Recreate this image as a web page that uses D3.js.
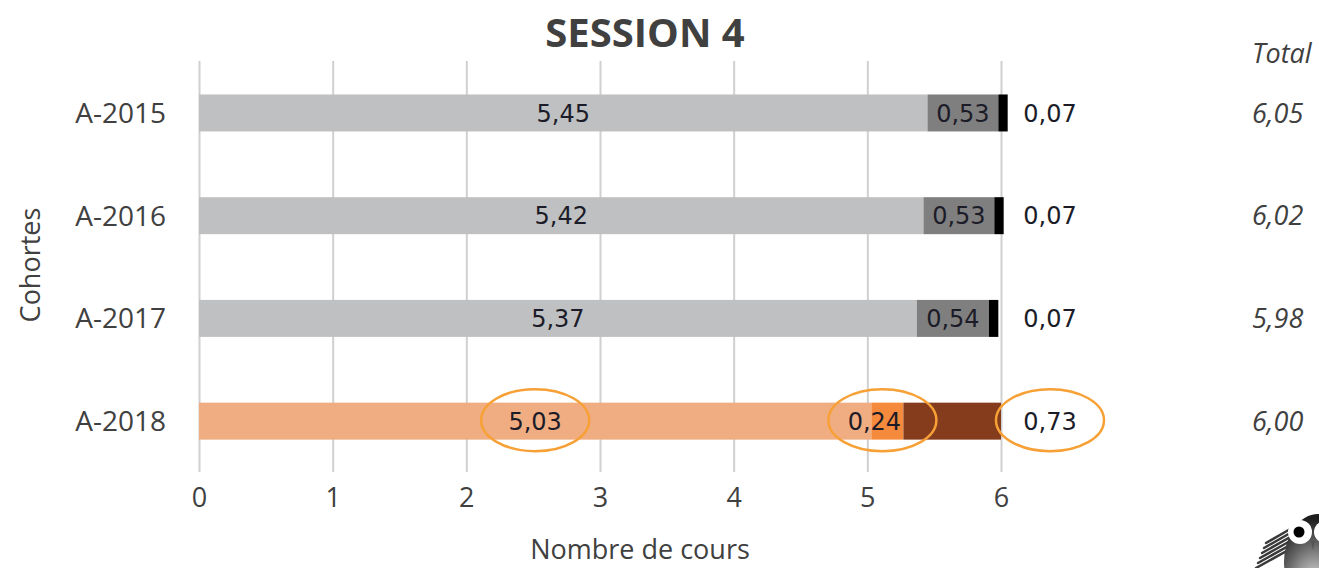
<!DOCTYPE html>
<html>
<head>
<meta charset="utf-8">
<script src="https://cdn.jsdelivr.net/npm/d3@7"></script>
<style>
  body { margin: 0; background: #fff; }
  svg { display: block; }
</style>
</head>
<body>
<svg width="1319" height="568"></svg>
<script>
// data
const cohorts = ["A-2015", "A-2016", "A-2017", "A-2018"];
const seg1 = [5.45, 5.42, 5.37, 5.03];
const seg2 = [0.53, 0.53, 0.54, 0.24];
const seg3 = [0.07, 0.07, 0.07, 0.73];
const totals = [6.05, 6.02, 5.98, 6.00];
const xTicks = [0, 1, 2, 3, 4, 5, 6];
const highlighted = ["A-2018"];

const greys = ["#bfc0c2", "#7f7f80", "#000000"];
const oranges = ["#f0ad82", "#f58a3c", "#843c1c"];

const fmt = v => d3.format(".2f")(v).replace(".", ",");
const font = "'Open Sans', sans-serif";

var svg = d3.select("svg");

var x = d3.scaleLinear().domain([0, 6]).range([199, 1001]);
var y = d3.scaleBand().domain(cohorts).range([61.6, 472.5])
    .paddingInner(0.64).paddingOuter(0.32);

// gridlines + tick labels
var ax = svg.append("g")
    .attr("transform", "translate(0,472)")
    .call(d3.axisBottom(x).tickValues(xTicks).tickSize(-411).tickPadding(16).tickFormat(d3.format("d")));
ax.select(".domain").remove();
ax.selectAll("line").attr("stroke", "#d0d0d0").attr("stroke-width", 2);
ax.selectAll("text")
    .attr("fill", "#404040")
    .style("font-family", font)
    .style("font-size", "27px");

// stacked rows
var rows = cohorts.map((c, i) => {
    var pal = highlighted.includes(c) ? oranges : greys;
    var vals = [seg1[i], seg2[i], seg3[i]];
    var start = 0;
    return vals.map((v, k) => {
        var s = {cohort: c, k: k, x0: start, x1: start + v, v: v, color: pal[k], hl: highlighted.includes(c)};
        start += v;
        return s;
    });
}).flat();

svg.append("g").selectAll("rect")
    .data(rows)
    .enter().append("rect")
    .attr("x", d => x(d.x0))
    .attr("y", d => y(d.cohort))
    .attr("width", d => x(d.x1) - x(d.x0))
    .attr("height", y.bandwidth())
    .attr("fill", d => d.color);

// label positions: inside for first two segments, outside right for the third
function labelX(d) {
    if (d.k < 2) return (x(d.x0) + x(d.x1)) / 2;
    return x(6) + 49;
}

// highlight ellipses
svg.append("g").selectAll("ellipse")
    .data(rows.filter(d => d.hl))
    .enter().append("ellipse")
    .attr("cx", d => d.k == 1 ? labelX(d) - 5 : labelX(d))
    .attr("cy", d => y(d.cohort) + y.bandwidth() / 2 - 1)
    .attr("rx", 54)
    .attr("ry", 31)
    .attr("fill", "none")
    .attr("stroke", "#f7a035")
    .attr("stroke-width", 2.5);

svg.append("g").selectAll("text")
    .data(rows)
    .enter().append("text")
    .attr("x", d => d.k == 1 && d.hl ? labelX(d) - 13 : labelX(d))
    .attr("y", d => y(d.cohort) + y.bandwidth() / 2)
    .attr("dy", "0.36em")
    .attr("text-anchor", "middle")
    .attr("fill", "#1c1c28")
    .style("font-family", "'DejaVu Sans', sans-serif")
    .style("font-size", "24px")
    .text(d => fmt(d.v));

// category labels
svg.append("g").selectAll("text")
    .data(cohorts)
    .enter().append("text")
    .attr("x", 166)
    .attr("y", d => y(d) + y.bandwidth() / 2)
    .attr("dy", "0.36em")
    .attr("text-anchor", "end")
    .attr("fill", "#404040")
    .style("font-family", font)
    .style("font-size", "28px")
    .text(d => d);

// totals column
svg.append("text")
    .attr("x", 1252).attr("y", 63)
    .attr("fill", "#404040")
    .style("font-family", font).style("font-size", "27px").style("font-style", "italic")
    .text("Total");
svg.append("g").selectAll("text")
    .data(totals)
    .enter().append("text")
    .attr("x", 1252)
    .attr("y", (d, i) => y(cohorts[i]) + y.bandwidth() / 2)
    .attr("dy", "0.36em")
    .attr("fill", "#404040")
    .style("font-family", font).style("font-size", "27px").style("font-style", "italic")
    .text(d => fmt(d));

// title and axis titles
svg.append("text")
    .attr("x", 645).attr("y", 47)
    .attr("text-anchor", "middle")
    .attr("fill", "#404040")
    .style("font-family", font).style("font-size", "40px").style("font-weight", "bold")
    .text("SESSION 4");

svg.append("text")
    .attr("x", 640).attr("y", 559)
    .attr("text-anchor", "middle")
    .attr("fill", "#404040")
    .style("font-family", font).style("font-size", "27px")
    .text("Nombre de cours");

svg.append("text")
    .attr("transform", "translate(40,265) rotate(-90)")
    .attr("text-anchor", "middle")
    .attr("fill", "#404040")
    .style("font-family", font).style("font-size", "27px")
    .text("Cohortes");

// little owl logo, bottom right corner
var defs = svg.append("defs");
var grad = defs.append("radialGradient").attr("id", "owl").attr("cx", "0.45").attr("cy", "0.75").attr("r", "0.7");
grad.append("stop").attr("offset", "0").attr("stop-color", "#e8e8e8");
grad.append("stop").attr("offset", "0.6").attr("stop-color", "#6a6a6a");
grad.append("stop").attr("offset", "1").attr("stop-color", "#1e1e1e");
var owl = svg.append("g");
[0, 1, 2, 3, 4, 5].forEach(i => {
    owl.append("path")
        .attr("d", "M" + (1256 + i * 2) + "," + (568 - i * 5) + " L1292," + (548 - i * 4))
        .attr("stroke", "#3a3a3a").attr("stroke-width", 2.5).attr("stroke-linecap", "round");
});
owl.append("ellipse").attr("cx", 1318).attr("cy", 562).attr("rx", 34).attr("ry", 48).attr("fill", "url(#owl)");
owl.append("circle").attr("cx", 1300).attr("cy", 532).attr("r", 12).attr("fill", "#fff");
owl.append("circle").attr("cx", 1299).attr("cy", 532).attr("r", 5.5).attr("fill", "#000");
owl.append("circle").attr("cx", 1325).attr("cy", 532).attr("r", 11).attr("fill", "#fff");
owl.append("path").attr("d", "M1311,541 L1313,550 L1315,541 Z").attr("fill", "#555");
</script>
</body>
</html>
